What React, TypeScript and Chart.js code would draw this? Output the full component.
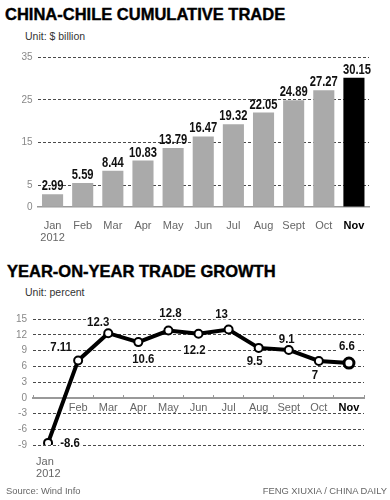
import React, { useEffect, useRef } from 'react';
import { Chart, registerables } from 'chart.js';

Chart.register(...registerables);

const FONT = '"Liberation Sans", Arial, sans-serif';

const months: (string | string[])[] = [['Jan', '2012'], 'Feb', 'Mar', 'Apr', 'May', 'Jun', 'Jul', 'Aug', 'Sept', 'Oct', 'Nov'];
const tradeValues = [2.99, 5.59, 8.44, 10.83, 13.79, 16.47, 19.32, 22.05, 24.89, 27.27, 30.15];
const tradeTicks = [0, 5, 15, 25, 35];
const growthValues = [-8.6, 7.11, 12.3, 10.6, 12.8, 12.2, 13, 9.5, 9.1, 7, 6.6];
const growthTicks = [-9, -6, -3, 0, 3, 6, 9, 12, 15];
// label placement relative to each point (dx, dy)
const growthLabelOffsets = [[22, 0], [-17, -14], [-10, -11], [5, 17], [2, -18], [-4, 16], [-7, -16], [-4, 13], [-2, -11], [-4, 14], [-2, -17]];

const lastIdx = months.length - 1;
const GRID = '#4a4a4a';

const barLabelPlugin = {
  id: 'barLabels',
  afterDatasetsDraw(chart: any) {
    const ctx = chart.ctx;
    const meta = chart.getDatasetMeta(0);
    ctx.save();
    ctx.font = `bold 14px ${FONT}`;
    ctx.fillStyle = '#111';
    ctx.textAlign = 'center';
    ctx.textBaseline = 'alphabetic';
    meta.data.forEach((el: any, i: number) => {
      const v = tradeValues[i];
      ctx.save();
      ctx.translate(el.x + (i === lastIdx ? 3 : 0), el.y - 4);
      ctx.scale(0.8, 1);
      ctx.fillText(v.toFixed(2), 0, 0);
      ctx.restore();
    });
    ctx.restore();
  },
};

const growthLabelPlugin = {
  id: 'growthLabels',
  beforeDatasetsDraw(chart: any) {
    const ctx = chart.ctx;
    const meta = chart.getDatasetMeta(0);
    ctx.save();
    ctx.font = `bold 13px ${FONT}`;
    ctx.textAlign = 'center';
    ctx.textBaseline = 'middle';
    meta.data.forEach((pt: any, i: number) => {
      const [dx, dy] = growthLabelOffsets[i];
      const x = pt.x + dx;
      const y = pt.y + dy;
      const text = String(growthValues[i]);
      const w = ctx.measureText(text).width * 0.88;
      ctx.fillStyle = '#fff';
      ctx.fillRect(x - w / 2 - 1, y - 6, w + 2, 12);
      ctx.save();
      ctx.translate(x, y);
      ctx.scale(0.88, 1);
      ctx.fillStyle = '#111';
      ctx.fillText(text, 0, 0.5);
      ctx.restore();
    });
    ctx.restore();
  },
  afterDraw(chart: any) {
    const ctx = chart.ctx;
    const xs = chart.scales.x;
    const lbl = months[0] as string[];
    const x = xs.getPixelForValue(0);
    ctx.save();
    ctx.font = `11px ${FONT}`;
    ctx.fillStyle = '#666';
    ctx.textAlign = 'left';
    ctx.textBaseline = 'middle';
    ctx.fillText(lbl[0], x - 12, chart.chartArea.bottom + 17);
    ctx.fillText(lbl[1], x - 12, chart.chartArea.bottom + 29);
    ctx.restore();
  },
};

export default function App() {
  const barRef = useRef<HTMLCanvasElement>(null);
  const lineRef = useRef<HTMLCanvasElement>(null);

  useEffect(() => {
    Chart.defaults.font.family = FONT;
    const bar = new Chart(barRef.current!, {
      type: 'bar',
      data: {
        labels: months,
        datasets: [
          {
            data: tradeValues,
            backgroundColor: tradeValues.map((_, i) => (i === lastIdx ? '#000' : '#aaaaaa')),
            barPercentage: 0.7,
            categoryPercentage: 1,
            borderWidth: 0,
          },
        ],
      },
      options: {
        responsive: false,
        animation: false,
        devicePixelRatio: 1,
        layout: { padding: { top: 17, right: 21, left: 0, bottom: 0 } },
        plugins: { legend: { display: false }, tooltip: { enabled: false } },
        scales: {
          x: {
            grid: { display: false },
            border: { display: true, color: '#9a9a9a', width: 1.5 },
            ticks: {
              color: (c: any) => (c.index === lastIdx ? '#000' : '#666'),
              font: (c: any) => ({ family: FONT, size: 11, weight: c.index === lastIdx ? 'bold' : 'normal', lineHeight: 1.1 }),
              padding: 5,
              maxRotation: 0,
              autoSkip: false,
            },
            afterFit: (s: any) => {
              s.height = 43;
            },
          },
          y: {
            min: 0,
            max: 35,
            afterBuildTicks: (s: any) => {
              s.ticks = tradeTicks.map((v) => ({ value: v }));
            },
            grid: {
              color: (c: any) => (c.tick && c.tick.value === 0 ? 'rgba(0,0,0,0)' : GRID),
              drawTicks: false,
              lineWidth: 1,
            },
            border: { display: false, dash: [3, 2] },
            ticks: { color: '#888', font: { size: 10, family: FONT }, padding: 5 },
            afterFit: (s: any) => {
              s.width = 37.5;
            },
          },
        },
      },
      plugins: [barLabelPlugin],
    } as any);

    const line = new Chart(lineRef.current!, {
      type: 'line',
      data: {
        labels: months,
        datasets: [
          {
            data: growthValues,
            borderColor: '#000',
            borderWidth: 4,
            pointBackgroundColor: '#fff',
            pointBorderColor: '#000',
            pointRadius: (c: any) => (c.dataIndex === lastIdx ? 5 : 4),
            pointBorderWidth: (c: any) => (c.dataIndex === lastIdx ? 3 : 2),
            tension: 0,
          },
        ],
      },
      options: {
        responsive: false,
        animation: false,
        devicePixelRatio: 1,
        layout: { padding: { top: 19, right: 26, left: 0, bottom: 45 } },
        plugins: { legend: { display: false }, tooltip: { enabled: false } },
        scales: {
          x: {
            offset: true,
            position: { y: 0 },
            grid: { display: true, drawOnChartArea: false, drawTicks: true, tickLength: -4, offset: true, color: '#999', lineWidth: 1 },
            border: { display: true, color: '#999', width: 2 },
            ticks: {
              callback: (_v: any, i: number) => (i === 0 ? '' : months[i]),
              color: (c: any) => (c.index === lastIdx ? '#000' : '#666'),
              font: (c: any) => ({ family: FONT, size: 11, weight: c.index === lastIdx ? 'bold' : 'normal' }),
              padding: 8,
              maxRotation: 0,
              autoSkip: false,
            },
          },
          y: {
            min: -9,
            max: 15,
            afterBuildTicks: (s: any) => {
              s.ticks = growthTicks.map((v) => ({ value: v }));
            },
            grid: {
              color: (c: any) => (c.tick && c.tick.value === 0 ? 'rgba(0,0,0,0)' : GRID),
              drawTicks: false,
              lineWidth: 1,
            },
            border: { display: false, dash: [3, 2] },
            ticks: { color: '#888', font: { size: 10, family: FONT }, padding: 6 },
            afterFit: (s: any) => {
              s.width = 33;
            },
          },
        },
      },
      plugins: [growthLabelPlugin],
    } as any);

    return () => {
      bar.destroy();
      line.destroy();
    };
  }, []);

  const title: React.CSSProperties = {
    position: 'absolute',
    fontFamily: FONT,
    fontWeight: 'bold',
    fontSize: 16.5,
    lineHeight: 1,
    color: '#000',
    whiteSpace: 'nowrap',
    WebkitTextStroke: '0.4px #000',
  };
  const unit: React.CSSProperties = {
    position: 'absolute',
    fontFamily: FONT,
    fontSize: 10.5,
    lineHeight: 1,
    color: '#333',
    whiteSpace: 'nowrap',
  };
  const credit: React.CSSProperties = {
    position: 'absolute',
    fontFamily: FONT,
    fontSize: 9.4,
    lineHeight: 1,
    color: '#666',
    whiteSpace: 'nowrap',
  };

  return (
    <div style={{ position: 'absolute', left: 0, top: 0, width: 390, height: 500, background: '#fff', overflow: 'hidden' }}>
      <div style={{ ...title, left: 5, top: 6 }}>CHINA-CHILE CUMULATIVE TRADE</div>
      <div style={{ ...unit, left: 25, top: 30.5 }}>Unit: $ billion</div>
      <canvas ref={barRef} width={390} height={210} style={{ position: 'absolute', left: 0, top: 40, width: 390, height: 210 }} />
      <div style={{ ...title, left: 7, top: 263 }}>YEAR-ON-YEAR TRADE GROWTH</div>
      <div style={{ ...unit, left: 25, top: 286.5 }}>Unit: percent</div>
      <canvas ref={lineRef} width={390} height={190} style={{ position: 'absolute', left: 0, top: 300, width: 390, height: 190 }} />
      <div style={{ ...credit, left: 6, top: 485.5 }}>Source: Wind Info</div>
      <div style={{ ...credit, right: 3, top: 485.5 }}>FENG XIUXIA / CHINA DAILY</div>
    </div>
  );
}
